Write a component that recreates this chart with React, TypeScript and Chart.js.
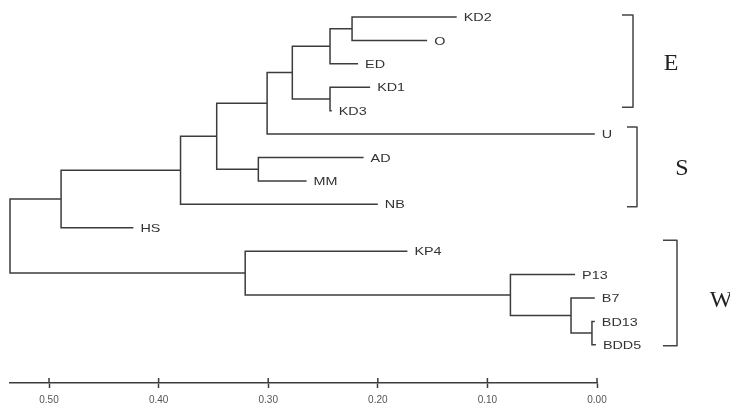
import React, { useEffect, useRef } from "react";
import { Chart, registerables } from "chart.js";

Chart.register(...registerables);

// Leaves, top to bottom
const leafNames = ["KD2", "O", "ED", "KD1", "KD3", "U", "AD", "MM", "NB", "HS", "KP4", "P13", "B7", "BD13", "BDD5"];
// Distance value at which each leaf branch ends
const leafTips = [0.128, 0.155, 0.218, 0.207, 0.242, 0.002, 0.213, 0.265, 0.2, 0.423, 0.173, 0.02, 0.002, 0.002, 0.001];

// Merges (linkage). Child index < 15 = leaf; >= 15 = merge (index - 15)
const mergeLeft = [0, 15, 3, 16, 18, 6, 19, 21, 22, 13, 12, 11, 10, 23];
const mergeRight = [1, 2, 4, 17, 5, 7, 20, 8, 9, 14, 24, 25, 26, 27];
const mergeHeights = [0.2235, 0.2436, 0.2436, 0.278, 0.301, 0.309, 0.347, 0.38, 0.489, 0.0046, 0.0237, 0.079, 0.321, 0.5356];

// Axis ticks
const axisTicks = [0.0, 0.1, 0.2, 0.3, 0.4, 0.5];

// Groups
const groupNames = ["E", "S", "W"];
const groupFirst = ["KD2", "U", "KP4"];
const groupLast = ["KD3", "NB", "BDD5"];

// layout (pixels) for group brackets: offset from axis zero pixel, arm length, top/bottom offsets, letter offset
const bracketLayout = [
  { dx: 36, arm: 11, top: -2, bottom: -3.5, letterDx: 74, letterDy: 0 },
  { dx: 40, arm: 10, top: -7, bottom: 2.5, letterDx: 85, letterDy: 0 },
  { dx: 80, arm: 14, top: -11, bottom: 1, letterDx: 124, letterDy: 3 },
];

const NL = leafNames.length;
const LINE = "#3c3c3c";

function nodeY(idx: number, ys: number[]): number {
  return idx < NL ? idx : ys[idx - NL];
}
function nodeH(idx: number): number {
  return idx < NL ? leafTips[idx] : mergeHeights[idx - NL];
}

function buildDatasets() {
  const ys: number[] = [];
  const datasets: any[] = [];
  for (let k = 0; k < mergeHeights.length; k++) {
    const a = mergeLeft[k];
    const b = mergeRight[k];
    const ya = nodeY(a, ys);
    const yb = nodeY(b, ys);
    ys.push((ya + yb) / 2);
    const h = mergeHeights[k];
    datasets.push({
      data: [
        { x: nodeH(a), y: ya },
        { x: h, y: ya },
        { x: h, y: yb },
        { x: nodeH(b), y: yb },
      ],
      showLine: true,
      borderColor: LINE,
      borderWidth: 1.5,
      pointRadius: 0,
      tension: 0,
      clip: false,
      borderJoinStyle: "miter",
    });
  }
  return datasets;
}

const dendroPlugin = {
  id: "dendroText",
  afterDraw(chart: any) {
    const { ctx } = chart;
    const x = chart.scales.x;
    const y = chart.scales.y;
    ctx.save();
    // tick marks crossing above axis line
    ctx.strokeStyle = LINE;
    ctx.lineWidth = 1.5;
    x.ticks.forEach((t: any) => {
      const px = x.getPixelForValue(t.value);
      ctx.beginPath();
      ctx.moveTo(px, x.top - 5);
      ctx.lineTo(px, x.top);
      ctx.stroke();
    });
    // leaf labels (horizontally widened like the source)
    ctx.fillStyle = "#333";
    ctx.font = "11.5px 'Liberation Sans', Arial, sans-serif";
    ctx.textBaseline = "middle";
    ctx.textAlign = "left";
    leafNames.forEach((n, i) => {
      ctx.save();
      ctx.translate(x.getPixelForValue(leafTips[i]) + 7, y.getPixelForValue(i) + 1);
      ctx.scale(1.25, 1);
      ctx.fillText(n, 0, 0);
      ctx.restore();
    });
    // brackets
    const zero = x.getPixelForValue(0);
    groupNames.forEach((g, gi) => {
      const L = bracketLayout[gi];
      const i0 = leafNames.indexOf(groupFirst[gi]);
      const i1 = leafNames.indexOf(groupLast[gi]);
      const top = y.getPixelForValue(i0) + L.top;
      const bot = y.getPixelForValue(i1) + L.bottom;
      const bx = zero + L.dx;
      ctx.strokeStyle = "#444";
      ctx.lineWidth = 1.5;
      ctx.lineJoin = "round";
      ctx.beginPath();
      ctx.moveTo(bx - L.arm, top);
      ctx.lineTo(bx, top);
      ctx.lineTo(bx, bot);
      ctx.lineTo(bx - L.arm, bot);
      ctx.stroke();
      ctx.fillStyle = "#222";
      ctx.font = "24px 'Liberation Serif', 'Times New Roman', serif";
      ctx.textAlign = "center";
      ctx.textBaseline = "middle";
      const my = (y.getPixelForValue(i0) + y.getPixelForValue(i1)) / 2;
      ctx.fillText(g, zero + L.letterDx, my + L.letterDy);
    });
    ctx.restore();
  },
};

export default function App() {
  const ref = useRef<HTMLCanvasElement | null>(null);
  useEffect(() => {
    if (!ref.current) return;
    const rootH = mergeHeights[mergeHeights.length - 1];
    const chart = new Chart(ref.current, {
      type: "scatter",
      data: { datasets: buildDatasets() },
      options: {
        responsive: false,
        animation: false,
        layout: { padding: { left: 10, right: 133, top: 5, bottom: -6 } },
        plugins: { legend: { display: false }, tooltip: { enabled: false } },
        scales: {
          x: {
            type: "linear",
            reverse: true,
            min: 0,
            max: rootH,
            afterBuildTicks: (scale: any) => {
              scale.ticks = axisTicks.map((v) => ({ value: v }));
            },
            grid: {
              drawOnChartArea: false,
              drawTicks: true,
              tickLength: 5,
              tickColor: LINE,
              tickWidth: 1.5,
            },
            border: { display: true, color: LINE, width: 1.5 },
            ticks: {
              padding: 6,
              color: "#555",
              font: { size: 10, family: "'Liberation Sans', Arial, sans-serif" },
              maxRotation: 0,
              autoSkip: false,
              callback: (v: any) => Number(v).toFixed(2),
            },
          },
          y: {
            type: "linear",
            display: false,
            reverse: true,
            min: -0.512,
            max: 15.63,
          },
        },
      },
      plugins: [dendroPlugin],
    });
    return () => chart.destroy();
  }, []);
  return (
    <div style={{ position: "absolute", left: 0, top: 0, width: 730, height: 406, background: "#fff" }}>
      <canvas ref={ref} width={730} height={406} style={{ display: "block" }} />
    </div>
  );
}
